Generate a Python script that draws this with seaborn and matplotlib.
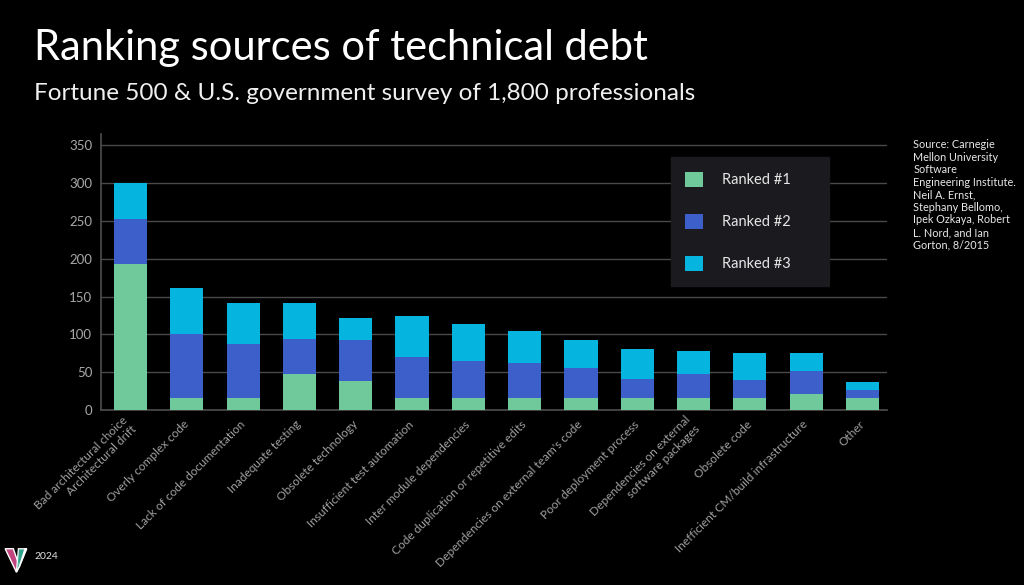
import matplotlib
matplotlib.use("Agg")
import matplotlib.pyplot as plt
from matplotlib.patches import Patch, Polygon
import numpy as np
import pandas as pd
import seaborn as sns

# Data
categories = [
    "Bad architectural choice\nArchitectural drift",
    "Overly complex code",
    "Lack of code documentation",
    "Inadequate testing",
    "Obsolete technology",
    "Insufficient test automation",
    "Inter module dependencies",
    "Code duplication or repetitive edits",
    "Dependencies on external team's code",
    "Poor deployment process",
    "Dependencies on external\nsoftware packages",
    "Obsolete code",
    "Inefficient CM/build infrastructure",
    "Other",
]
ranked_1 = [193, 16, 16, 48, 39, 16, 16, 16, 16, 16, 16, 16, 21, 16]
ranked_2 = [59, 84, 71, 46, 53, 54, 49, 46, 40, 25, 31, 24, 31, 10]
ranked_3 = [48, 62, 54, 47, 30, 54, 49, 42, 36, 40, 31, 36, 24, 11]
y_ticks = [0, 50, 100, 150, 200, 250, 300, 350]

source_text = ("Source: Carnegie\nMellon University\nSoftware\nEngineering Institute.\n"
               "Neil A. Ernst,\nStephany Bellomo,\nIpek Ozkaya, Robert\nL. Nord, and Ian\n"
               "Gorton, 8/2015")

c1, c2, c3 = "#6fc99b", "#3d5fc9", "#05b5df"

df = pd.DataFrame({"source": categories, "r1": ranked_1, "r2": ranked_2, "r3": ranked_3})
df["r12"] = df["r1"] + df["r2"]
df["total"] = df["r12"] + df["r3"]

sns.set_theme(style="dark")
plt.rcParams["font.family"] = ["Lato", "DejaVu Sans"]

fig = plt.figure(figsize=(10.24, 5.85), dpi=100, facecolor="black")
ax = fig.add_axes([0.0983, 0.2991, 0.7676, 0.4718])
ax.set_facecolor("black")

# stacked bars: draw cumulative totals back to front
for col, colour in [("total", c3), ("r12", c2), ("r1", c1)]:
    sns.barplot(data=df, x="source", y=col, color=colour, saturation=1, width=0.59,
                linewidth=0, edgecolor="none", ax=ax, zorder=3)

ax.set_ylim(0, 365)
ax.set_xlim(-0.53, 13.43)
ax.set_yticks(y_ticks)
ax.set_xlabel("")
ax.set_ylabel("")
ax.grid(axis="y", color="#4a4a4a", linewidth=1, zorder=0)
ax.grid(axis="x", visible=False)
for side in ["top", "right"]:
    ax.spines[side].set_visible(False)
ax.spines["left"].set_color("#4a4a4a")
ax.spines["bottom"].set_color("#4a4a4a")
ax.tick_params(axis="both", length=0)
ax.tick_params(axis="y", colors="#a8a8a8", labelsize=9.5, pad=6)
ax.tick_params(axis="x", colors="#a0a0a0", labelsize=8.6, pad=9)
for lbl in ax.get_xticklabels():
    lbl.set_rotation(45)
    lbl.set_ha("right")
    lbl.set_va("center")
    lbl.set_rotation_mode("anchor")
    lbl.set_multialignment("right")

handles = [Patch(facecolor=c, edgecolor="none", linewidth=0) for c in (c1, c2, c3)]
leg = ax.legend(handles, ["Ranked #1", "Ranked #2", "Ranked #3"],
                loc="upper left", bbox_to_anchor=(0.725, 0.453, 0.202, 0.463), mode="expand",
                fontsize=10.5, handlelength=1.25, handleheight=1.25, labelspacing=1.8,
                handletextpad=1.3, borderpad=1.0, borderaxespad=0,
                frameon=True, fancybox=False, facecolor="#1b1b1f", edgecolor="#1b1b1f",
                framealpha=1, labelcolor="#e6e6e6")
leg.set_zorder(5)

fig.text(0.033, 0.918, "Ranking sources of technical debt", color="white",
         fontsize=30, va="center", ha="left")
fig.text(0.033, 0.84, "Fortune 500 & U.S. government survey of 1,800 professionals",
         color="#f0f0f0", fontsize=17.5, va="center", ha="left")
fig.text(0.892, 0.762, source_text, color="#e8e8e8", fontsize=7.8, va="top", ha="left",
         linespacing=1.17)

# logo mark and year at the bottom left
fig.patches.append(Polygon([[0.005, 0.062], [0.013, 0.062], [0.019, 0.032], [0.016, 0.022]],
                           closed=True, transform=fig.transFigure, facecolor="#c2457f"))
fig.patches.append(Polygon([[0.016, 0.022], [0.019, 0.032], [0.026, 0.062], [0.018, 0.062]],
                           closed=True, transform=fig.transFigure, facecolor="#39b59a", alpha=0.9))
fig.patches.append(Polygon([[0.019, 0.032], [0.026, 0.062], [0.0245, 0.062]],
                           closed=True, transform=fig.transFigure, facecolor="#6fd37e"))
fig.text(0.034, 0.049, "2024", color="#e0e0e0", fontsize=7.5, va="center", ha="left")

fig.savefig("out.png", dpi=100, facecolor="black")
